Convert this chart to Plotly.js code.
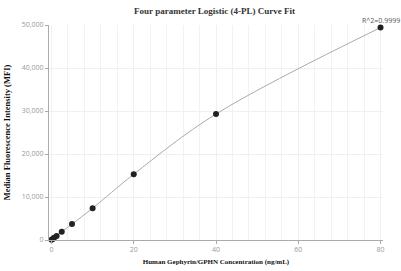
<!DOCTYPE html>
<html><head><script src="https://cdn.plot.ly/plotly-3.0.1.min.js"></script>
<style>body{margin:0}#c{width:401px;height:271px}</style></head>
<body><div id="c"></div>
<script>
var conc = [0, 0.3125, 0.625, 1.25, 2.5, 5, 10, 20, 40, 80];
var mfi = [50, 250, 500, 950, 1900, 3700, 7400, 15300, 29300, 49400];
var r2Label = 'R^2=0.9999';
var traces = [
 {x: conc, y: mfi, mode: 'lines', line: {color: '#aaaaaa', width: 1, shape: 'spline'}, hoverinfo: 'skip', cliponaxis: false},
 {x: conc, y: mfi, mode: 'markers', marker: {color: '#222222', size: 6}, cliponaxis: false}
];
var serif = 'Liberation Serif, Times New Roman, serif';
var layout = {
 width: 401, height: 271, showlegend: false,
 margin: {l: 49, r: 18, t: 25, b: 31},
 paper_bgcolor: '#fff', plot_bgcolor: '#fff',
 title: {text: '<b>Four parameter Logistic (4-PL) Curve Fit</b>', font: {family: serif, size: 9, color: '#333'}, x: 0.535, xanchor: 'center', y: 0.97, yanchor: 'top'},
 xaxis: {range: [-0.6, 80.6], tickvals: [0, 20, 40, 60, 80], ticktext: ['0','20','40','60','80'], showgrid: true, gridcolor: '#eef0f5',
   minor: {dtick: 4, showgrid: true, gridcolor: '#f1f2f7'}, zeroline: false, showline: true, linecolor: '#aaaaaa', ticks: 'outside', ticklen: 3, tickcolor: '#aaa',
   tickfont: {family: 'Open Sans, sans-serif', size: 7, color: '#999'},
   title: {text: '<b>Human Gephyrin/GPHN Concentration (ng/mL)</b>', font: {family: serif, size: 7, color: '#111'}, standoff: 5}},
 yaxis: {range: [0, 50000], tickvals: [0, 10000, 20000, 30000, 40000, 50000], ticktext: ['0','10,000','20,000','30,000','40,000','50,000'], showgrid: true, gridcolor: '#eef0f5',
   zeroline: false, showline: true, linecolor: '#aaaaaa', ticks: 'outside', ticklen: 3, tickcolor: '#aaa',
   tickfont: {family: 'Open Sans, sans-serif', size: 7, color: '#999'},
   title: {text: '<b>Median Fluorescence Intensity (MFI)</b>', font: {family: serif, size: 8.5, color: '#111'}, standoff: 9}},
 annotations: [{x: 80, y: 49400, xref: 'x', yref: 'y', text: r2Label, showarrow: false, yanchor: 'bottom', xanchor: 'center', yshift: 1, font: {family: 'Open Sans, sans-serif', size: 7, color: '#555'}}]
};
Plotly.newPlot('c', traces, layout, {displayModeBar: false, staticPlot: true});
</script></body></html>
